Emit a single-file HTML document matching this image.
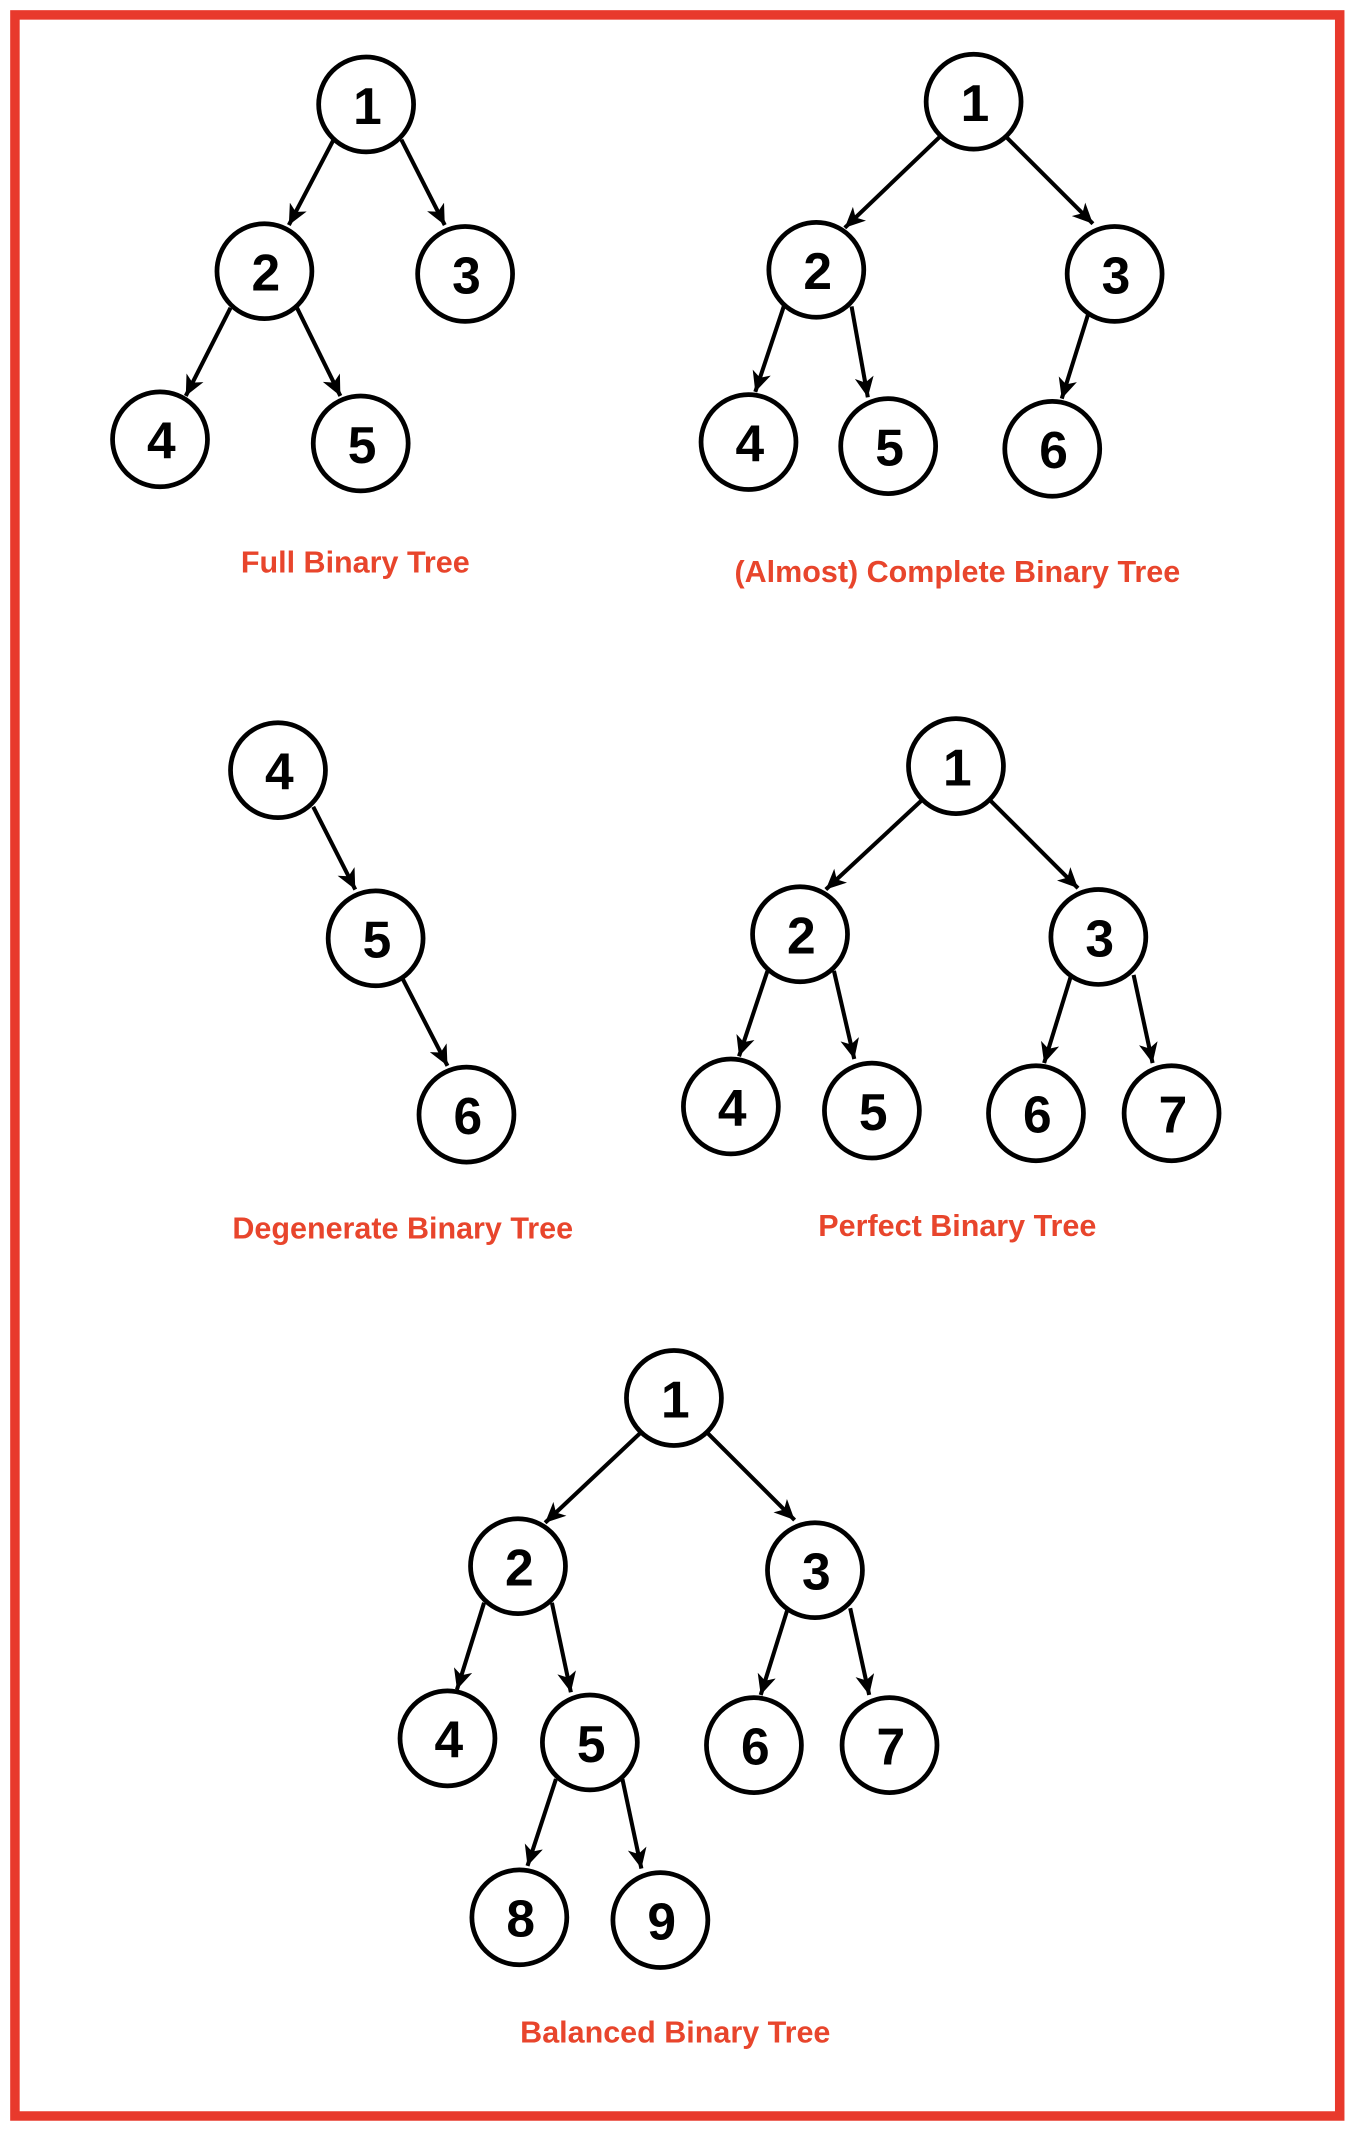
<!DOCTYPE html>
<html><head><meta charset="utf-8"><style>
html,body{margin:0;padding:0;background:#fff;}
svg{display:block;}
.n circle{fill:#fff;stroke:#000;stroke-width:3.5;}
.n text{font-family:"Liberation Sans",sans-serif;font-weight:bold;font-size:38px;text-anchor:middle;dominant-baseline:central;fill:#000;}
line{stroke:#000;stroke-width:3;marker-end:url(#ar);}
.lbl{font-family:"Liberation Sans",sans-serif;font-weight:bold;font-size:22.5px;fill:#e8452c;text-anchor:middle;dominant-baseline:central;}
</style></head><body>
<svg width="1356" height="2132" viewBox="0 0 1000 1572.3" xmlns="http://www.w3.org/2000/svg">
<defs><marker id="ar" markerUnits="userSpaceOnUse" markerWidth="16" markerHeight="14" refX="15" refY="7" orient="auto"><path d="M0,0 L15,7 L0,14 L4,7 Z" fill="#000"/></marker></defs>
<rect x="11" y="11" width="977" height="1549.5" fill="none" stroke="#e8392c" stroke-width="7"/>
<!-- Tree A -->
<line x1="246" y1="103" x2="213" y2="166"/><line x1="296" y1="103" x2="328" y2="166"/>
<line x1="170" y1="227" x2="137" y2="292"/><line x1="219" y1="227" x2="251" y2="292"/>
<g class="n"><circle cx="270" cy="77" r="35"/><text x="271" y="78">1</text>
<circle cx="195" cy="200" r="35"/><text x="196" y="201">2</text>
<circle cx="343" cy="202" r="35"/><text x="344" y="203">3</text>
<circle cx="118" cy="324" r="35"/><text x="119" y="325">4</text>
<circle cx="266" cy="327" r="35"/><text x="267" y="328">5</text></g>
<text class="lbl" x="262" y="415">Full Binary Tree</text>
<!-- Tree B -->
<line x1="693" y1="101" x2="623" y2="168"/><line x1="742" y1="101" x2="806" y2="165"/>
<line x1="578" y1="226" x2="557" y2="289"/><line x1="628" y1="226" x2="640" y2="293"/>
<line x1="803" y1="230" x2="783" y2="294"/>
<g class="n"><circle cx="718" cy="75" r="35"/><text x="719" y="76">1</text>
<circle cx="602" cy="199" r="35"/><text x="603" y="200">2</text>
<circle cx="822" cy="202" r="35"/><text x="823" y="203">3</text>
<circle cx="552" cy="326" r="35"/><text x="553" y="327">4</text>
<circle cx="655" cy="329" r="35"/><text x="656" y="330">5</text>
<circle cx="776" cy="331" r="35"/><text x="777" y="332">6</text></g>
<text class="lbl" x="706" y="422">(Almost) Complete Binary Tree</text>
<!-- Tree C -->
<line x1="231" y1="595" x2="262" y2="656"/><line x1="296" y1="720" x2="330" y2="786"/>
<g class="n"><circle cx="205" cy="568" r="35"/><text x="206" y="569">4</text>
<circle cx="277" cy="692" r="35"/><text x="278" y="693">5</text>
<circle cx="344" cy="822" r="35"/><text x="345" y="823">6</text></g>
<text class="lbl" x="297" y="906">Degenerate Binary Tree</text>
<!-- Tree D -->
<line x1="680" y1="590" x2="609" y2="656"/><line x1="730" y1="590" x2="795" y2="655"/>
<line x1="566" y1="716" x2="545" y2="779"/><line x1="615" y1="716" x2="630" y2="781"/>
<line x1="790" y1="719" x2="770" y2="784"/><line x1="836" y1="719" x2="850" y2="784"/>
<g class="n"><circle cx="705" cy="565" r="35"/><text x="706" y="566">1</text>
<circle cx="590" cy="689" r="35"/><text x="591" y="690">2</text>
<circle cx="810" cy="691" r="35"/><text x="811" y="692">3</text>
<circle cx="539" cy="816" r="35"/><text x="540" y="817">4</text>
<circle cx="643" cy="819" r="35"/><text x="644" y="820">5</text>
<circle cx="764" cy="821" r="35"/><text x="765" y="822">6</text>
<circle cx="864" cy="821" r="35"/><text x="865" y="822">7</text></g>
<text class="lbl" x="706" y="904">Perfect Binary Tree</text>
<!-- Tree E -->
<line x1="472" y1="1057" x2="402" y2="1123"/><line x1="522" y1="1057" x2="586" y2="1121"/>
<line x1="357" y1="1182" x2="337" y2="1246"/><line x1="407" y1="1182" x2="421" y2="1248"/>
<line x1="581" y1="1186" x2="561" y2="1250"/><line x1="627" y1="1186" x2="641" y2="1250"/>
<line x1="410" y1="1312" x2="389" y2="1376"/><line x1="459" y1="1312" x2="473" y2="1378"/>
<g class="n"><circle cx="497" cy="1031" r="35"/><text x="498" y="1032">1</text>
<circle cx="382" cy="1155" r="35"/><text x="383" y="1156">2</text>
<circle cx="601" cy="1158" r="35"/><text x="602" y="1159">3</text>
<circle cx="330" cy="1282" r="35"/><text x="331" y="1283">4</text>
<circle cx="435" cy="1285" r="35"/><text x="436" y="1286">5</text>
<circle cx="556" cy="1287" r="35"/><text x="557" y="1288">6</text>
<circle cx="656" cy="1287" r="35"/><text x="657" y="1288">7</text>
<circle cx="383" cy="1414" r="35"/><text x="384" y="1415">8</text>
<circle cx="487" cy="1416" r="35"/><text x="488" y="1417">9</text></g>
<text class="lbl" x="498" y="1499">Balanced Binary Tree</text>
</svg>
</body></html>
